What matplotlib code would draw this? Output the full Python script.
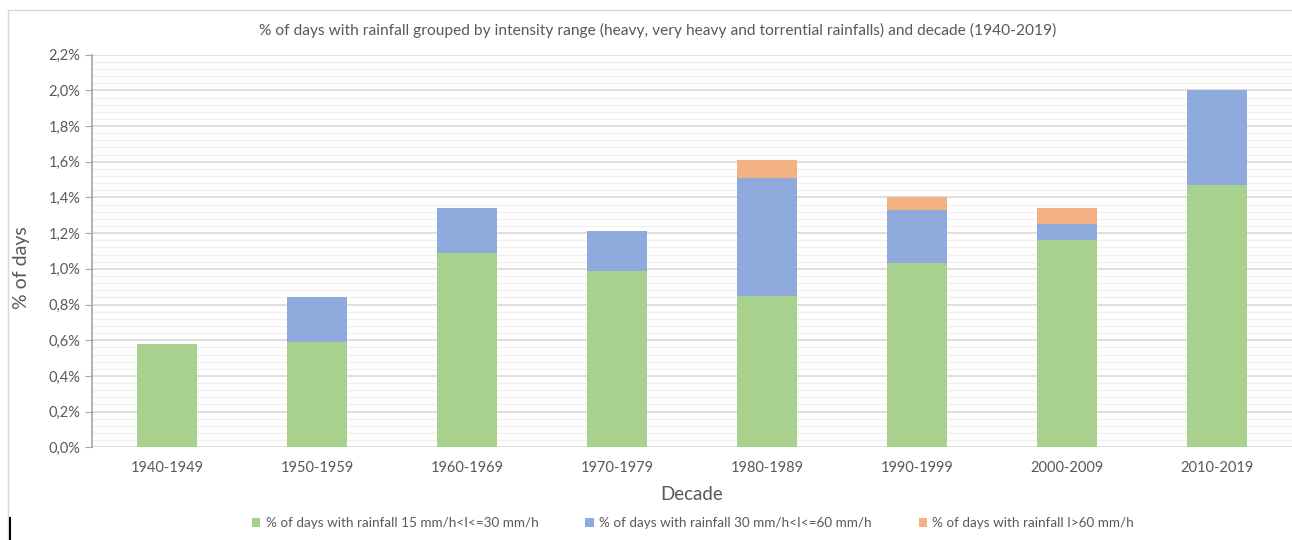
import numpy as np
import matplotlib.pyplot as plt
from matplotlib.patches import Rectangle
from matplotlib.ticker import MultipleLocator, FuncFormatter

plt.rcParams['font.family'] = ['Lato', 'DejaVu Sans']

decades = ['1940-1949', '1950-1959', '1960-1969', '1970-1979',
           '1980-1989', '1990-1999', '2000-2009', '2010-2019']
# % of days in each intensity range
heavy = [0.58, 0.59, 1.09, 0.99, 0.85, 1.03, 1.16, 1.47]
very_heavy = [0.00, 0.25, 0.25, 0.22, 0.66, 0.30, 0.09, 0.53]
torrential = [0.00, 0.00, 0.00, 0.00, 0.10, 0.07, 0.09, 0.00]
labels = ['% of days with rainfall 15 mm/h<I<=30 mm/h',
          '% of days with rainfall 30 mm/h<I<=60 mm/h',
          '% of days with rainfall I>60 mm/h']
colors = ['#A9D18E', '#8FAADC', '#F4B183']

txt = '#595959'
fig = plt.figure(figsize=(12.92, 5.4), dpi=100)
ax = fig.add_axes([92 / 1292, 1 - 447.3 / 540, 1 - 92 / 1292, (447.3 - 54.7) / 540])

x = np.arange(len(decades))
w = 0.4
b1 = ax.bar(x, heavy, w, color=colors[0], label=labels[0], zorder=3)
bottom2 = np.array(heavy)
b2 = ax.bar(x, very_heavy, w, bottom=bottom2, color=colors[1], label=labels[1], zorder=3)
bottom3 = bottom2 + np.array(very_heavy)
b3 = ax.bar(x, torrential, w, bottom=bottom3, color=colors[2], label=labels[2], zorder=3)

ax.set_xlim(-0.5, len(decades) - 0.5)
ax.set_ylim(0, 2.2)
ax.yaxis.set_major_locator(MultipleLocator(0.2))
ax.yaxis.set_minor_locator(MultipleLocator(0.04))
ax.yaxis.set_major_formatter(FuncFormatter(lambda v, p: f'{v:.1f}%'.replace('.', ',')))
ax.grid(axis='y', which='major', color='#D9D9D9', lw=1.2, zorder=0)
ax.grid(axis='y', which='minor', color='#F0F0F0', lw=1.0, zorder=0)

for s in ['top', 'right', 'bottom']:
    ax.spines[s].set_visible(False)
ax.spines['left'].set_color('#A6A6A6')
ax.spines['left'].set_linewidth(1.2)
ax.tick_params(axis='y', which='major', colors='#A6A6A6', length=5, labelcolor=txt, labelsize=10.5)
ax.tick_params(axis='y', which='minor', length=0)
ax.tick_params(axis='x', length=0, labelcolor=txt, labelsize=10.5, pad=10)
ax.set_xticks(x)
ax.set_xticklabels(decades)

ax.set_xlabel('Decade', fontsize=13.5, color=txt, labelpad=8)
fig.text(22 / 1292, 1 - 268 / 540, '% of days', rotation=90, fontsize=14,
         color=txt, ha='center', va='center')

fig.text(658 / 1292, 1 - 30 / 540,
         '% of days with rainfall grouped by intensity range (heavy, very heavy and '
         'torrential rainfalls) and decade (1940-2019)',
         fontsize=11.2, color=txt, ha='center', va='center')

fig.legend(handles=[b1, b2, b3], loc='center', bbox_to_anchor=(693 / 1292, 1 - 523 / 540),
           ncol=3, frameon=False, fontsize=9.7, labelcolor=txt,
           handlelength=0.6, handleheight=0.6, handletextpad=0.4, columnspacing=3.5)

# chart frame and stray cursor mark
fig.add_artist(Rectangle((8 / 1292, -0.1), 1.2, 1.1 - 10 / 540, transform=fig.transFigure,
                         fill=False, edgecolor='#D9D9D9', lw=1))
fig.add_artist(plt.Line2D([10 / 1292, 10 / 1292], [0, 1 - 518 / 540],
                          transform=fig.transFigure, color='black', lw=1.5))

fig.savefig('out.png', dpi=100)
